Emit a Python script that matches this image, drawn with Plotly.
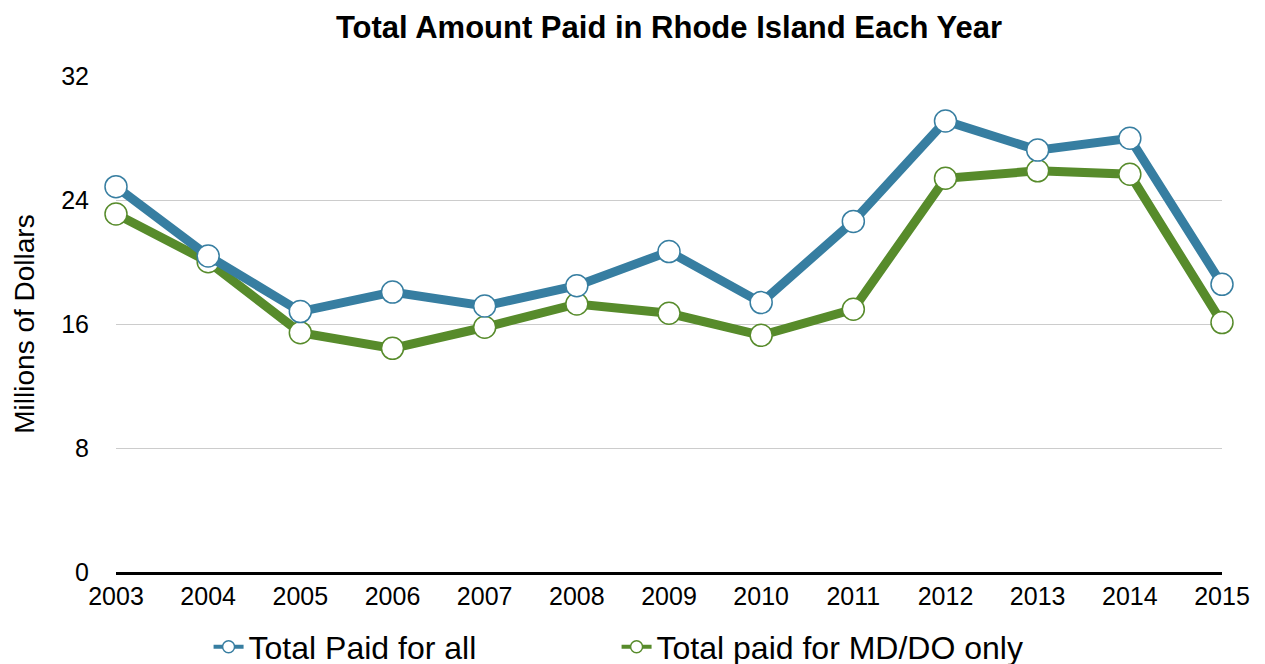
import plotly.graph_objects as go

years = ["2003", "2004", "2005", "2006", "2007", "2008", "2009",
         "2010", "2011", "2012", "2013", "2014", "2015"]
total_all = [24.86, 20.39, 16.8, 18.06, 17.16, 18.47, 20.67,
             17.38, 22.62, 29.1, 27.22, 27.98, 18.56]
total_mddo = [23.1, 20.02, 15.44, 14.43, 15.79, 17.29, 16.69,
              15.27, 16.95, 25.4, 25.88, 25.66, 16.09]
y_ticks = [0, 8, 16, 24, 32]

blue = "#377ea1"
green = "#578b2b"
font = "Liberation Sans, Arial, Helvetica, sans-serif"

fig = go.Figure()
# green drawn first so blue sits on top
fig.add_trace(go.Scatter(
    x=years, y=total_mddo, mode="lines+markers", name="Total paid for MD/DO only",
    line=dict(color=green, width=9),
    marker=dict(size=22, color="white", line=dict(color=green, width=1.5)),
    showlegend=False, hoverinfo="skip", cliponaxis=False))
fig.add_trace(go.Scatter(
    x=years, y=total_all, mode="lines+markers", name="Total Paid for all",
    line=dict(color=blue, width=9),
    marker=dict(size=22, color="white", line=dict(color=blue, width=1.5)),
    showlegend=False, hoverinfo="skip", cliponaxis=False))
# legend-only entries
fig.add_trace(go.Scatter(
    x=[None], y=[None], mode="lines+markers", name="Total Paid for all",
    line=dict(color=blue, width=4),
    marker=dict(size=12, color="white", line=dict(color=blue, width=1.5)),
    legendrank=1))
fig.add_trace(go.Scatter(
    x=[None], y=[None], mode="lines+markers", name="Total paid for MD/DO only",
    line=dict(color=green, width=4),
    marker=dict(size=12, color="white", line=dict(color=green, width=1.5)),
    legendrank=2))

fig.update_layout(
    width=1265, height=664,
    paper_bgcolor="white", plot_bgcolor="white",
    margin=dict(l=108, r=51, t=68, b=100, autoexpand=False),
    font=dict(family=font, color="black", size=25),
    title=dict(text="<b>Total Amount Paid in Rhode Island Each Year</b>",
               x=0.5, xref="paper", xanchor="center",
               y=0.971, yanchor="middle", yref="container",
               font=dict(size=31, family=font, color="black")),
    legend=dict(orientation="h", x=0.0837, xanchor="left", xref="paper",
                y=-0.151, yanchor="middle", font=dict(size=32, family=font),
                entrywidth=363, itemsizing="trace", traceorder="normal",
                bgcolor="rgba(0,0,0,0)"),
    xaxis=dict(type="category", categoryorder="array", categoryarray=years,
               range=[0, len(years) - 1], showgrid=False, zeroline=False,
               showline=True, linecolor="black", linewidth=2.5,
               ticks="", tickfont=dict(size=25), fixedrange=True),
    yaxis=dict(range=[0, 32], tickvals=y_ticks, ticktext=[str(v) for v in y_ticks],
               showgrid=True, gridcolor="#cccccc", gridwidth=1.3,
               zeroline=False, showline=False, ticks="",
               ticklabelstandoff=26, tickfont=dict(size=25),
               title=dict(text="Millions of Dollars", standoff=18,
                          font=dict(size=28, family=font)),
               fixedrange=True),
)

fig.write_html("out.html")
